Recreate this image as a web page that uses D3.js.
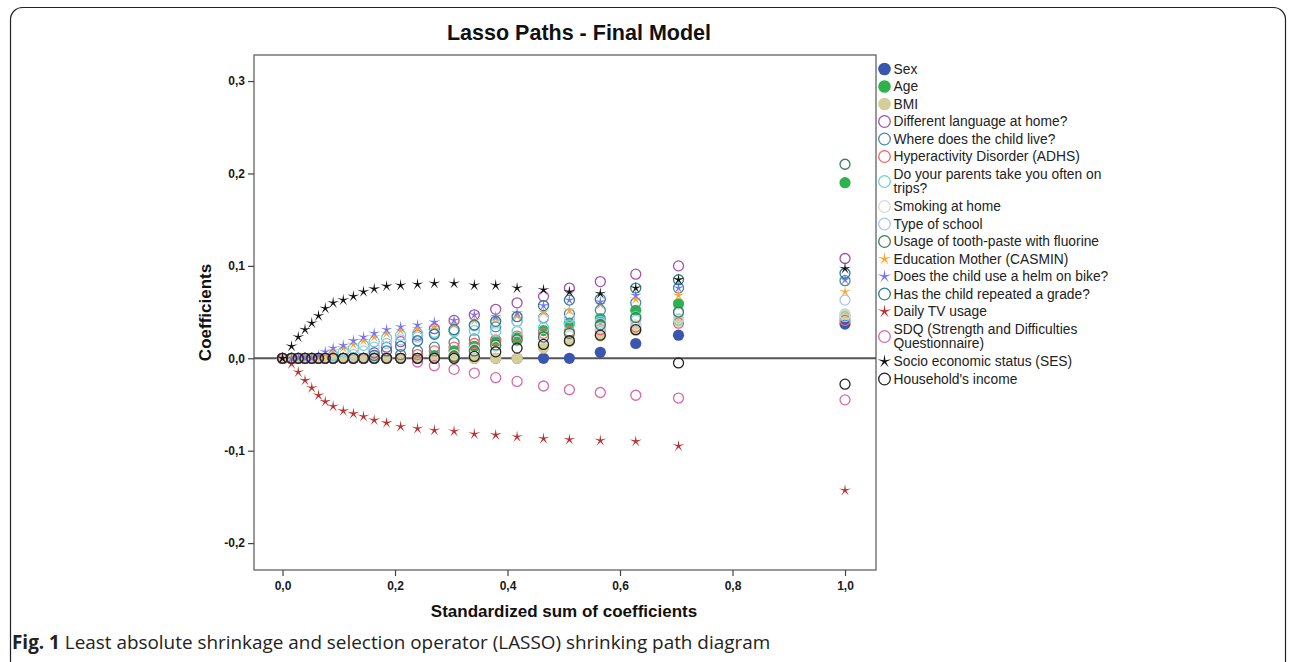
<!DOCTYPE html>
<html>
<head>
<meta charset="utf-8">
<script src="https://cdn.jsdelivr.net/npm/d3@7"></script>
<style>
  body { margin: 0; background: #fff; }
  text { font-family: "Liberation Sans", Arial, sans-serif; }
</style>
</head>
<body>
<div id="plot"></div>
<script>
// standardized sum of coefficients at each step of the path (last one = full model)
const steps = [0, 0.016, 0.028, 0.040, 0.052, 0.064, 0.076, 0.090, 0.108, 0.126, 0.144, 0.163, 0.185,
  0.210, 0.240, 0.270, 0.305, 0.341, 0.379, 0.417, 0.464, 0.510, 0.565, 0.628, 0.704, 1.0]

// coefficients, one array per predictor
const sex = [0,0,0,0,0,0,0,0,0,0,0,0,0,0,0,0,0,0,0,0,0,0, 0.0065, 0.016, 0.025, 0.037]
const age = [0,0,0,0,0,0,0,0,0,0,0,0,0,0,0, 0.003, 0.008, 0.013, 0.018, 0.022, 0.030, 0.038, 0.043, 0.052, 0.059, 0.190]
const bmi = [0,0,0,0,0,0,0,0,0,0,0,0,0,0,0,0,0,0,0,0, 0.011, 0.018, 0.024, 0.030, 0.040, 0.048]
const language = [0,0,0,0,0,0,0,0,0,0,0, 0.006, 0.012, 0.018, 0.025, 0.032, 0.041, 0.047, 0.053, 0.060, 0.067, 0.076, 0.083, 0.091, 0.100, 0.108]
const whereLive = [0,0,0,0,0,0,0,0,0,0,0,0,0, 0.004, 0.008, 0.012, 0.017, 0.021, 0.034, 0.040, 0.044, 0.048, 0.052, 0.060, 0.076, 0.084]
const adhs = [0,0,0,0,0,0,0,0,0,0,0,0,0,0, 0.004, 0.008, 0.012, 0.016, 0.020, 0.024, 0.027, 0.029, 0.031, 0.034, 0.038, 0.041]
const trips = [0,0,0,0,0,0,0, 0.003, 0.007, 0.011, 0.014, 0.018, 0.022, 0.025, 0.027, 0.028, 0.029, 0.030, 0.029, 0.029, 0.033, 0.036, 0.040, 0.045, 0.042, 0.045]
const smoking = [0,0,0,0,0,0,0,0,0,0,0,0,0,0,0,0, 0.004, 0.010, 0.013, 0.019, 0.022, 0.024, 0.033, 0.036, 0.043, 0.047]
const school = [0,0,0,0,0,0,0,0,0, 0.004, 0.008, 0.012, 0.016, 0.020, 0.023, 0.027, 0.030, 0.035, 0.038, 0.040, 0.043, 0.044, 0.038, 0.041, 0.049, 0.063]
const toothpaste = [0,0,0,0,0,0,0,0,0,0,0,0,0,0,0,0, 0.002, 0.008, 0.0145, 0.020, 0.023, 0.027, 0.036, 0.044, 0.050, 0.210]
const education = [0,0,0,0,0, 0.001, 0.004, 0.008, 0.011, 0.015, 0.019, 0.023, 0.027, 0.030, 0.032, 0.034, 0.037, 0.041, 0.043, 0.046, 0.050, 0.052, 0.058, 0.064, 0.068, 0.072]
const helm = [0,0,0,0,0, 0.003, 0.007, 0.011, 0.014, 0.019, 0.023, 0.027, 0.031, 0.034, 0.036, 0.039, 0.041, 0.047, 0.045, 0.049, 0.057, 0.063, 0.061, 0.068, 0.076, 0.085]
const repeated = [0,0,0,0,0,0,0,0,0,0,0, 0.003, 0.008, 0.013, 0.019, 0.026, 0.031, 0.036, 0.040, 0.045, 0.057, 0.063, 0.064, 0.076, 0.085, 0.092]
const tvUsage = [0, -0.006, -0.015, -0.024, -0.032, -0.040, -0.047, -0.052, -0.057, -0.060, -0.063, -0.067, -0.070,
  -0.074, -0.076, -0.078, -0.079, -0.082, -0.083, -0.085, -0.087, -0.088, -0.089, -0.090, -0.095, -0.143]
const sdq = [0,0,0,0,0,0,0,0,0,0,0,0,0,0, -0.004, -0.008, -0.012, -0.016, -0.021, -0.025, -0.030, -0.034, -0.037, -0.040, -0.043, -0.045]
const ses = [0, 0.013, 0.023, 0.031, 0.038, 0.046, 0.054, 0.060, 0.063, 0.067, 0.072, 0.075, 0.078,
  0.079, 0.080, 0.081, 0.081, 0.079, 0.079, 0.076, 0.074, 0.072, 0.070, 0.076, 0.085, 0.097]
const income = [0,0,0,0,0,0,0,0,0,0,0,0,0,0,0,0,0, 0.002, 0.007, 0.011, 0.015, 0.019, 0.025, 0.031, -0.005, -0.028]

const labels = ['Sex', 'Age', 'BMI', 'Different language at home?', 'Where does the child live?',
  'Hyperactivity Disorder (ADHS)', 'Do your parents take you often on\ntrips?', 'Smoking at home',
  'Type of school', 'Usage of tooth-paste with fluorine', 'Education Mother (CASMIN)',
  'Does the child use a helm on bike?', 'Has the child repeated a grade?', 'Daily TV usage',
  'SDQ (Strength and Difficulties\nQuestionnaire)', 'Socio economic status (SES)', "Household's income"]
const values = [sex, age, bmi, language, whereLive, adhs, trips, smoking, school, toothpaste,
  education, helm, repeated, tvUsage, sdq, ses, income]
const yTicks = [-0.2, -0.1, 0, 0.1, 0.2, 0.3]
const xTicks = [0, 0.2, 0.4, 0.6, 0.8, 1.0]

// marker styles, same order as labels
const styles = [
  {shape: 'dot', color: '#3b56ad'},
  {shape: 'dot', color: '#2fb24b'},
  {shape: 'dot', color: '#d5ce98'},
  {shape: 'ring', color: '#a24fb0'},
  {shape: 'ring', color: '#4a8c9a'},
  {shape: 'ring', color: '#f06468'},
  {shape: 'ring', color: '#66d4d8'},
  {shape: 'ring', color: '#d8d8d8'},
  {shape: 'ring', color: '#a6c8ec'},
  {shape: 'ring', color: '#3c7d55'},
  {shape: 'star', color: '#ffa333'},
  {shape: 'star', color: '#7474f6'},
  {shape: 'ring', color: '#2f7d8f'},
  {shape: 'star', color: '#b9302f'},
  {shape: 'ring', color: '#db68a5'},
  {shape: 'star', color: '#111111'},
  {shape: 'ring', color: '#222222'}
]

// thin five pointed star like the SPSS marker
const thinStar = {
  draw(context, size) {
    const r = Math.sqrt(size), ri = r * 0.22
    for (let i = 0; i < 10; i++) {
      const a = -Math.PI / 2 + i * Math.PI / 5
      const rr = i % 2 ? ri : r
      if (i === 0) context.moveTo(rr * Math.cos(a), rr * Math.sin(a))
      else context.lineTo(rr * Math.cos(a), rr * Math.sin(a))
    }
    context.closePath()
  }
}

const drawMarker = function(sel, style, big) {
  if (style.shape === 'star') {
    sel.append('path')
      .attr('d', d3.symbol().type(thinStar).size(big ? 52 : 40)())
      .attr('fill', style.color)
  } else {
    sel.append('circle')
      .attr('r', style.shape === 'dot' ? (big ? 6.3 : 5.6) : (big ? 5.8 : 5))
      .attr('fill', style.shape === 'dot' ? style.color : 'none')
      .attr('stroke', style.shape === 'dot' ? 'none' : style.color)
      .attr('stroke-width', 1.3)
  }
}

const W = 1290, H = 662
var margin = {top: 55, right: 414, bottom: 92, left: 254},
    width = W - margin.left - margin.right,
    height = H - margin.top - margin.bottom;

var svg = d3.select('#plot')
  .append('svg')
    .attr('width', W)
    .attr('height', H)

// outer figure box
svg.append('rect')
  .attr('x', 10.5).attr('y', 7.5)
  .attr('width', 1275).attr('height', 700)
  .attr('rx', 12)
  .attr('fill', 'none')
  .attr('stroke', '#222')
  .attr('stroke-width', 1.2)

var g = svg.append('g')
  .attr('transform', 'translate(' + margin.left + ',' + margin.top + ')')

const x = d3.scaleLinear().domain([-0.0507, 1.0551]).range([0, width])
const y = d3.scaleLinear().domain([-0.2291, 0.3282]).range([height, 0])
const fmt = d => d3.format('.1f')(d).replace('.', ',').replace('\u2212', '-')

// frame
g.append('rect')
  .attr('width', width).attr('height', height)
  .attr('fill', 'none')
  .attr('stroke', '#555')
  .attr('stroke-width', 1.2)

// y axis
var yAxis = g.append('g')
  .call(d3.axisLeft(y).tickValues(yTicks).tickFormat(fmt).tickSize(6).tickPadding(3))
yAxis.select('.domain').remove()

// x axis
var xAxis = g.append('g')
  .attr('transform', 'translate(0,' + height + ')')
  .call(d3.axisBottom(x).tickValues(xTicks).tickFormat(fmt).tickSize(6).tickPadding(5))
xAxis.select('.domain').remove()

svg.selectAll('.tick line').attr('stroke', '#444').attr('stroke-width', 1.2)
svg.selectAll('.tick text')
  .style('font-family', '"Liberation Sans", Arial, sans-serif')
  .style('font-size', '12px')
  .style('font-weight', 'bold')
  .attr('fill', '#1a1a1a')

// zero reference line
g.append('line')
  .attr('x1', 0).attr('x2', width)
  .attr('y1', y(0)).attr('y2', y(0))
  .attr('stroke', '#555')
  .attr('stroke-width', 2)

// points, one group per predictor
values.forEach(function(vals, k) {
  g.append('g').selectAll('g')
    .data(vals.map((v, i) => ({step: steps[i], value: v})))
    .enter()
    .append('g')
      .attr('transform', d => 'translate(' + x(d.step) + ',' + y(d.value) + ')')
      .each(function() { drawMarker(d3.select(this), styles[k], false) })
})

// titles
svg.append('text')
  .attr('x', 579).attr('y', 40)
  .attr('text-anchor', 'middle')
  .style('font-size', '21.5px').style('font-weight', 'bold')
  .attr('fill', '#111')
  .text('Lasso Paths - Final Model')

svg.append('text')
  .attr('x', margin.left + width / 2 - 1).attr('y', 617)
  .attr('text-anchor', 'middle')
  .style('font-size', '17px').style('font-weight', 'bold')
  .attr('fill', '#111')
  .text('Standardized sum of coefficients')

svg.append('text')
  .attr('transform', 'translate(211,' + (margin.top + height / 2) + ') rotate(-90)')
  .attr('text-anchor', 'middle')
  .style('font-size', '17px').style('font-weight', 'bold')
  .attr('fill', '#111')
  .text('Coefficients')

// legend
var legend = svg.append('g')
let cy = 69
labels.forEach(function(lab, k) {
  const lines = lab.split('\n')
  if (k > 0) cy += 8.75 + 7.5 * (lines.length - 1)
  var item = legend.append('g').attr('transform', 'translate(884.5,' + cy + ')')
  drawMarker(item, styles[k], true)
  item.append('text')
    .attr('y', -7 * (lines.length - 1))
    .style('font-size', '13.8px')
    .attr('fill', '#222')
    .selectAll('tspan')
    .data(lines)
    .enter()
    .append('tspan')
      .attr('x', 9)
      .attr('dy', (d, i) => i ? '14px' : '0.36em')
      .text(d => d)
  cy += 8.75 + 7.5 * (lines.length - 1)
})

// figure caption
var cap = svg.append('text')
  .attr('x', 12).attr('y', 649)
  .style('font-family', '"Open Sans", sans-serif')
  .style('font-size', '18.9px')
  .attr('fill', '#222')
cap.append('tspan').style('font-weight', 'bold').text('Fig. 1')
cap.append('tspan').text(' Least absolute shrinkage and selection operator (LASSO) shrinking path diagram')
</script>
</body>
</html>
